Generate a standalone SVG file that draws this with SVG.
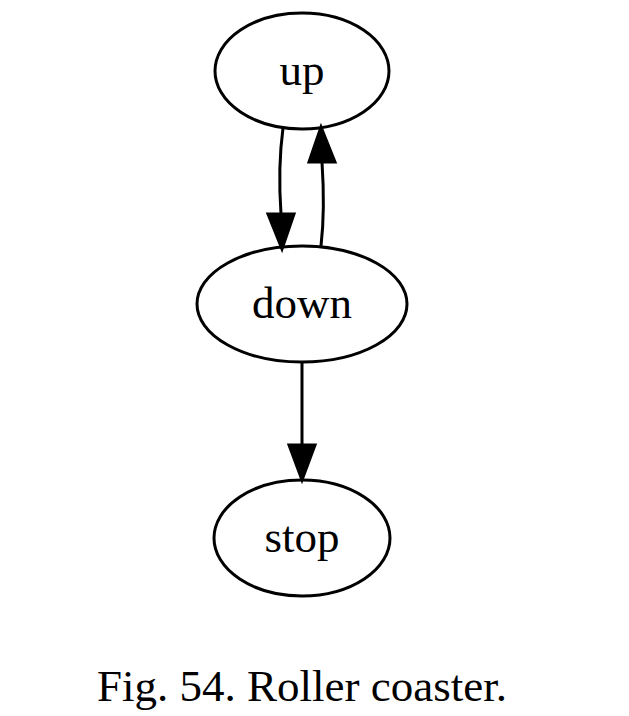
<svg xmlns="http://www.w3.org/2000/svg" width="629" height="716" viewBox="0 0 629 716">
<style>
.n ellipse{fill:none;stroke:#000;stroke-width:3}
text{font-family:"Liberation Serif","Times New Roman",serif;font-size:45px;fill:#000;text-anchor:middle}
.e path{fill:none;stroke:#000;stroke-width:3}
.e polygon{fill:#000;stroke:#000;stroke-width:3}
</style>
<rect width="629" height="716" fill="#fff"/>
<g id="up" class="n"><ellipse cx="302" cy="71" rx="87" ry="58"/><text x="302" y="85">up</text></g>
<g id="down" class="n"><ellipse cx="302" cy="304" rx="105" ry="58"/><text x="302" y="318">down</text></g>
<g id="stop" class="n"><ellipse cx="302" cy="538" rx="88" ry="58"/><text x="302" y="552">stop</text></g>
<g id="edges" class="e">
<path d="M283,128 C279,158 279,186 281,214"/>
<polygon points="268,214 294,214 282,249"/>
<path d="M321,246 C324,220 324,192 322,162"/>
<polygon points="309,162 335,162 321,127"/>
<path d="M302,362 L302,445"/>
<polygon points="289,445 315,445 302,480"/>
</g>
<text id="caption" x="302" y="701">Fig. 54. Roller coaster.</text>
</svg>
